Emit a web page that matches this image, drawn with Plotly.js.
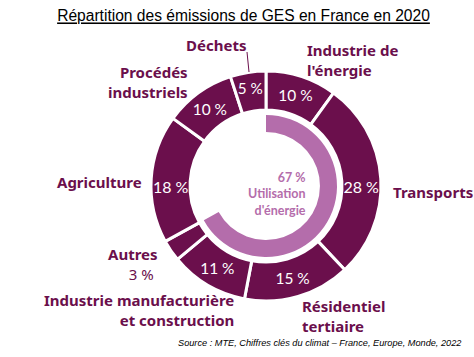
<!DOCTYPE html>
<html>
<head>
<meta charset="utf-8">
<script src="https://cdn.plot.ly/plotly-3.0.1.min.js"></script>
<style>html,body{margin:0;padding:0;background:#fff}#chart{width:474px;height:357px}</style>
</head>
<body>
<div id="chart"></div>
<script>
// ---- data ----
const categories = ["Industrie de l'énergie", "Transports", "Résidentiel tertiaire",
  "Industrie manufacturière et construction", "Autres", "Agriculture",
  "Procédés industriels", "Déchets"];
const shares = [10, 28, 15, 11, 3, 18, 10, 5];
const labelLines = [["Industrie de", "l'énergie"], ["Transports"], ["Résidentiel", "tertiaire"],
  ["Industrie manufacturière", "et construction"], ["Autres"], ["Agriculture"],
  ["Procédés", "industriels"], ["Déchets"]];
const outsideValueCats = ["Autres"];
const energyShare = 67;
const energyLabelLines = ["Utilisation", "d'énergie"];
const titleText = "Répartition des émissions de GES en France en 2020";
const sourceText = "Source : MTE, Chiffres clés du climat – France, Europe, Monde, 2022";

// ---- style ----
const W = 474, H = 357;
const DARK = '#6b0f4c', LIGHT = '#b46dab';
const cx = 266, cy = 186, rOut = 115, rIn = 76, r2Out = 71, r2In = 54;
const px = x => x / W, py = y => 1 - y / H;
const LABFONT = {family: '"Noto Sans", sans-serif', size: 15, color: DARK, weight: 700};

const pctText = categories.map((c, i) => outsideValueCats.includes(c) ? '' : shares[i] + ' %');

const outer = {
  type: 'pie', values: shares, labels: categories, sort: false, direction: 'clockwise', rotation: 0,
  hole: rIn / rOut, text: pctText, textinfo: 'text', textposition: 'inside',
  insidetextorientation: 'horizontal',
  insidetextfont: {family: 'Lato, sans-serif', size: 16, color: '#ffffff'},
  marker: {colors: categories.map(() => DARK), line: {color: '#ffffff', width: 3}},
  domain: {x: [px(cx - rOut), px(cx + rOut)], y: [py(cy + rOut), py(cy - rOut)]},
  hoverinfo: 'label+value', showlegend: false
};
const inner = {
  type: 'pie', values: [energyShare, 100 - energyShare], labels: ['énergie', 'reste'], sort: false,
  direction: 'clockwise', rotation: 0, hole: r2In / r2Out, textinfo: 'none',
  marker: {colors: [LIGHT, 'rgba(0,0,0,0)'], line: {width: 0}},
  domain: {x: [px(cx - r2Out), px(cx + r2Out)], y: [py(cy + r2Out), py(cy - r2Out)]},
  hoverinfo: 'skip', showlegend: false
};

// label placement (pixel anchor = vertical middle of the block)
const labelPos = [
  {x: 305, y: 60, xa: 'left'},
  {x: 391, y: 192, xa: 'left'},
  {x: 300, y: 316, xa: 'left'},
  {x: 236, y: 310, xa: 'right'},
  {x: 160, y: 264, xa: 'right'},
  {x: 144, y: 182, xa: 'right'},
  {x: 190, y: 82, xa: 'right'},
  {x: 216, y: 45, xa: 'center'}
];
const annotations = [];
labelLines.forEach((lines, i) => {
  let t = lines.join('<br>');
  if (outsideValueCats.includes(categories[i])) {
    t += '<br><span style="font-weight:400">' + shares[i] + ' %&nbsp;</span>';
  }
  annotations.push({
    text: t, x: px(labelPos[i].x), y: py(labelPos[i].y), xref: 'paper', yref: 'paper',
    xanchor: labelPos[i].xa, yanchor: 'middle', align: labelPos[i].xa, showarrow: false, font: LABFONT
  });
});
annotations.push({
  text: [energyShare + ' %'].concat(energyLabelLines).join('<br>'), x: px(308), y: py(193.5),
  xref: 'paper', yref: 'paper', xanchor: 'right', yanchor: 'middle', align: 'right', showarrow: false,
  font: {family: 'Lato, sans-serif', size: 12.5, color: LIGHT, weight: 700}
});
annotations.push({
  text: sourceText, x: px(463), y: py(343), xref: 'paper', yref: 'paper',
  xanchor: 'right', yanchor: 'middle', showarrow: false,
  font: {family: '"Liberation Sans", sans-serif', size: 9.2, color: '#000', style: 'italic'}
});

const layout = {
  width: W, height: H, margin: {l: 0, r: 0, t: 0, b: 0},
  paper_bgcolor: '#ffffff', plot_bgcolor: '#ffffff',
  title: {text: titleText, x: px(243.5), y: py(16), xref: 'paper', yref: 'paper', xanchor: 'center', yanchor: 'middle',
    font: {family: '"Liberation Sans", sans-serif', size: 15.6, color: '#000', lineposition: 'under'}},
  annotations: annotations,
  shapes: [{type: 'line', xref: 'paper', yref: 'paper', x0: px(247), y0: py(52), x1: px(249), y1: py(72),
    line: {color: DARK, width: 1}}]
};

Plotly.newPlot('chart', [outer, inner], layout, {displayModeBar: false, staticPlot: true});
</script>
</body>
</html>
